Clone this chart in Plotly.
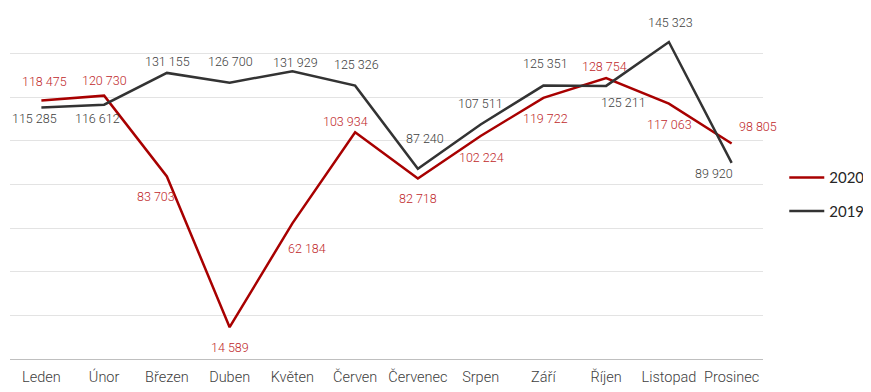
import plotly.graph_objects as go

months = ["Leden", "Únor", "Březen", "Duben", "Květen", "Červen",
          "Červenec", "Srpen", "Září", "Říjen", "Listopad", "Prosinec"]
v2020 = [118475, 120730, 83703, 14589, 62184, 103934,
         82718, 102224, 119722, 128754, 117063, 98805]
v2019 = [115285, 116612, 131155, 126700, 131929, 125326,
         87240, 107511, 125351, 125211, 145323, 89920]

# label offsets in pixels (style only)
off2020 = [(3, 19), (0, 15), (-11, -20), (0, -20), (15, -25), (-10, 11),
           (0, -20), (1, -21), (2, -21), (-2, 12), (1, -21), (26, 17)]
off2019 = [(-7, -11), (-7, -14), (1, 11), (1, 21), (3, 9), (1, 21),
           (7, 30), (0, 21), (2, 22), (17, -17), (2, 20), (-18, -11)]

RED = "#A80000"
RED_TXT = "#C0282B"
BLK = "#333333"
BLK_TXT = "#404040"


def fmt(v):
    return f"{v:,}".replace(",", " ")


fig = go.Figure()
fig.add_trace(go.Scatter(x=months, y=v2020, mode="lines", name="2020",
                         line=dict(color=RED, width=2.5), legendgroup="a"))
fig.add_trace(go.Scatter(x=months, y=v2019, mode="lines", name="2019",
                         line=dict(color=BLK, width=2.5), legendgroup="b"))

annotations = []
for vals, offs, col in ((v2020, off2020, RED_TXT), (v2019, off2019, BLK_TXT)):
    for m, v, (dx, dy) in zip(months, vals, offs):
        annotations.append(dict(x=m, y=v, xref="x", yref="y", text=fmt(v),
                                showarrow=False, xshift=dx, yshift=dy,
                                font=dict(family="Roboto", size=12.5, color=col, weight=300)))

# page body has an 8px default margin, so the figure is sized to fit the window
fig.update_layout(
    width=863, height=384,
    margin=dict(l=2, r=108, t=2, b=33, autoexpand=False),
    paper_bgcolor="white", plot_bgcolor="white",
    annotations=annotations,
    showlegend=True,
    legend=dict(xref="container", x=0.8995, y=0.472, xanchor="left", yanchor="middle",
                font=dict(family="Lato", size=15, color="#262626"),
                itemwidth=35,
                tracegroupgap=11, bgcolor="rgba(0,0,0,0)"),
    xaxis=dict(range=[-0.5, 11.5], showgrid=False, showline=True,
               linecolor="#BFBFBF", linewidth=1, ticks="", ticklabelstandoff=5,
               tickfont=dict(family="Roboto", size=14.5, color="#404040", weight=300),
               fixedrange=True),
    yaxis=dict(range=[0, 160000], dtick=20000, showticklabels=False,
               showgrid=True, gridcolor="#E3E3E3", gridwidth=1,
               zeroline=False, showline=False, fixedrange=True),
)

fig.write_html("out.html")
